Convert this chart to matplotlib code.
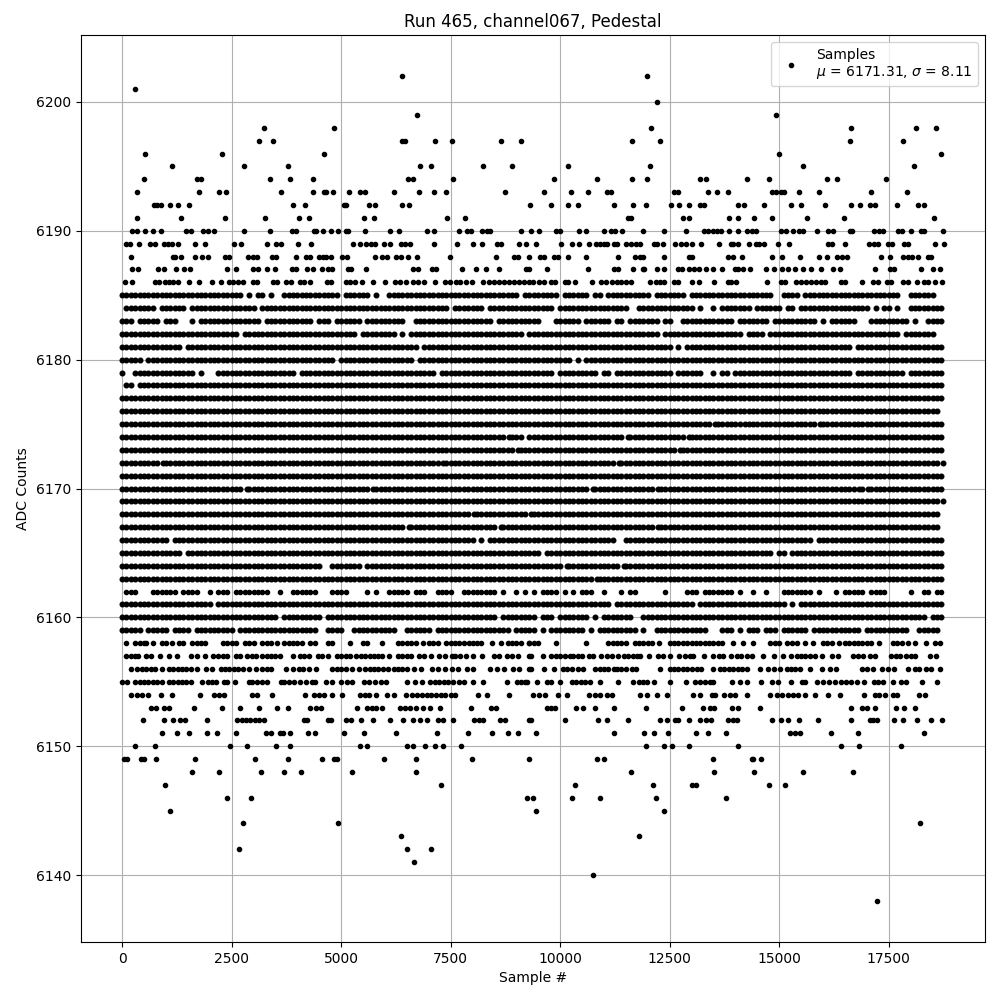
import numpy as np
import matplotlib
matplotlib.use('Agg')
import matplotlib.pyplot as plt

# sample positions, one list per ADC level, in hundreds of samples
# the dense rows are only read to about one marker width
adc_6202 = [63.8, 119.9]
adc_6201 = [3.0]
adc_6200 = [122.2]
adc_6199 = [67.3, 149.3]
adc_6198 = [32.4, 48.3, 120.8, 166.4, 181.3, 185.8]
adc_6197 = [31.2, 34.4, 63.9, 64.5, 71.4, 75.2, 86.4, 91, 116.3, 122.9, 166.2, 178.3]
adc_6196 = [5.2, 22.8, 46.1, 150, 187]
adc_6195 = [11.4, 27.8, 37.8, 68, 70.5, 82.3, 89.1, 101.9, 120.6, 155.5, 180.8]
adc_6194 = [5, 17.1, 18, 33.7, 38.3, 43.5, 65.2, 66.3, 75.5, 98.7, 108.5, 116.3, 119.9, 132, 133.4, 142.7, 147.7, 161, 163.3, 174.4]
adc_6193 = [3.3, 17.6, 22.1, 23.7, 36.2, 43.5, 46, 46.6, 48.1, 51.8, 54.3, 55.4, 62, 67.7, 71.1, 73.9, 87.5, 96.4, 102.4, 106.3, 110.6, 111.5, 125.9, 126.8, 133.8, 135.9, 138.4, 148.4, 149.3, 150.3, 151.2, 154.6, 159.1, 171, 179.2]
adc_6192 = [7.3, 8, 8.9, 11, 12.8, 15.3, 39, 41.7, 50.6, 51, 56.3, 57.7, 63.8, 65.4, 93.2, 97.8, 101.7, 104, 112.4, 116.7, 119.5, 125.2, 127.2, 129.5, 132, 132.9, 140.7, 142, 146.6, 152.8, 155, 160.5, 166.4, 168.5, 170.8, 171.9, 177, 181.7, 183.1]
adc_6191 = [3.4, 13.5, 23.5, 32.6, 40.4, 42.6, 55.2, 57.5, 74.1, 78.2, 115.4, 116.1, 128.1, 129.3, 138.6, 140.5, 144.3, 148.4, 156.4, 164.8, 185.4]
adc_6190 = [2.2, 3.3, 5.2, 7.1, 8.9, 14.5, 15.7, 18.5, 19.6, 21, 27.8, 33.7, 38.8, 39.7, 43.8, 44.2, 45.8, 47.7, 49.2, 51.1, 51.5, 55.4, 61.1, 63.2, 69.5, 71.1, 76.8, 78.7, 79.6, 82.1, 83.2, 84, 91, 93.3, 95.1, 99.1, 100, 104.3, 106, 110.1, 111.5, 112.6, 114.2, 119, 123.8, 128.8, 132.9, 133.8, 134.8, 135.9, 136.8, 138.6, 140.7, 142.6, 143.9, 144.6, 150.3, 151.6, 153.2, 154.6, 155.5, 158.7, 161.2, 162.3, 166.2, 166.7, 171.7, 172.8, 173.7, 177.2, 178.1, 180.1, 182.4, 183.1, 187.4]
adc_6189 = [0.8, 1.8, 3.8, 6.4, 7.5, 9.6, 10.5, 11.4, 12.8, 16.6, 18.9, 25.5, 27.1, 33.1, 35.1, 36.2, 40.1, 43.1, 52.7, 54.3, 55.6, 56.8, 57.7, 59.7, 61.1, 63.6, 64.5, 65.7, 71.1, 76.4, 80.2, 82.1, 85.5, 86.6, 90.5, 92.3, 94.4, 100.3, 102.8, 104.2, 106.5, 108.1, 109, 109.9, 110.8, 112.2, 112.9, 115.1, 116.1, 117.2, 118.3, 121.5, 122.2, 123.4, 126.3, 127.5, 128.8, 130.2, 132.2, 136.3, 138.9, 139.5, 140.7, 143.2, 144.8, 145.5, 146.6, 149.8, 152.3, 161.2, 162.1, 165.1, 170.5, 171.7, 172.6, 174.9, 175.8, 178.5, 179.4, 185.6, 187.6]
adc_6188 = [2, 11.6, 12.1, 13.5, 16.6, 18.2, 19.6, 23.5, 24.4, 28.7, 29.9, 30.8, 34.2, 35.1, 39.7, 42, 42.9, 44.9, 45.8, 46.5, 47.7, 50.2, 51.3, 57.7, 59.3, 60.4, 62.5, 63.6, 65.2, 67.3, 74.8, 85.3, 89.4, 90.3, 92.8, 95.5, 96.4, 98.5, 99.6, 101.7, 106, 113.3, 117, 118.3, 118.8, 123.6, 129.3, 130, 138.2, 139.5, 141.6, 148.4, 150.7, 154.8, 159.1, 161, 163.3, 164.4, 165.5, 173.3, 175.3, 178.3, 179.4, 180.4, 181.7, 184, 184.7]
adc_6187 = [2.3, 3.6, 8.2, 9.6, 12.3, 14.1, 15.5, 24, 26, 29.9, 31, 33.1, 34.9, 38.8, 39.7, 42.2, 43.5, 45.6, 47, 47.9, 51.5, 52.2, 55.6, 66.3, 67.5, 70.7, 71.6, 77.5, 80.7, 83, 86, 92.1, 92.8, 96.9, 106.3, 112.4, 113.1, 116.7, 118.8, 119.2, 122, 123.6, 126.8, 127.9, 129.5, 130.6, 131.8, 133.2, 135, 137, 139.8, 140.7, 141.8, 143.4, 147.1, 148.9, 150.7, 151.9, 153.7, 155.5, 157.3, 159.6, 162.3, 163.9, 171.9, 175.3, 176.2, 182.4, 185.1, 186.7]
adc_6186 = [0.7, 2.3, 7.5, 8.4, 9.8, 10.7, 11.6, 12.8, 15.3, 17.6, 20.5, 22.6, 24.4, 25.3, 26.5, 27.6, 29.9, 30.8, 34.4, 35.3, 37.4, 38.5, 40.6, 41.5, 42.9, 46.7, 47.7, 51.1, 52, 53.1, 54.7, 57.2, 60, 62.2, 63.4, 64.8, 66.3, 67.5, 68.9, 71.4, 73.7, 74.8, 76.2, 77.1, 78.4, 79.8, 82.3, 83.7, 84.8, 86, 87.1, 88.3, 89.4, 90.5, 91.7, 92.8, 93.9, 95.1, 96.2, 97.9, 98.9, 101, 101.9, 103.5, 107.2, 109.4, 110.4, 111.8, 112.9, 114, 115.1, 116.1, 120.6, 121.8, 122.7, 123.6, 126.1, 127, 130, 131.6, 135.2, 138.2, 139.1, 140.2, 147.3, 150.3, 151.4, 153.9, 155, 156.2, 157.3, 158.5, 159.6, 160.5, 164.2, 165.1, 169, 171.5, 172.6, 174.7, 175.6, 178.3, 179.4, 181.5, 183.1, 184, 185.6, 187.2]
adc_6185 = [0, 1, 2, 3, 4, 5, 6, 7, 8, 9, 10, 11, 12, 13, 14, 15, 16, 17, 18, 19, 20, 21, 22, 23, 24, 25, 26, 27, 29, 31, 32, 34, 37, 38, 39, 40, 41, 42, 43, 44, 45, 46, 47, 48, 49, 51, 52, 53, 54, 55, 56, 58, 61, 62, 63, 64, 65, 66, 67, 68, 69, 70, 71, 72, 73, 74, 75, 76, 77, 78, 79, 80, 81, 82, 83, 84, 85, 86, 87, 88, 89, 90, 92, 93, 94, 95, 96, 97, 98, 99, 101, 102, 103, 104, 105, 106, 108, 109, 111, 112, 113, 114, 115, 116, 117, 118, 119, 120, 122, 123, 124, 125, 126, 127, 128, 130, 131, 132, 133, 134, 135, 136, 137, 138, 139, 140, 141, 142, 143, 144, 145, 146, 147, 148, 151, 152, 153, 154, 156, 157, 158, 159, 160, 161, 162, 163, 164, 165, 166, 167, 168, 169, 170, 171, 172, 173, 174, 175, 176, 177, 180, 181, 182, 183, 184, 185]
adc_6184 = [1, 2, 3, 4, 5, 6, 7, 9, 10, 11, 12, 13, 14, 16, 17, 18, 19, 20, 21, 22, 23, 24, 25, 26, 27, 28, 29, 30, 32, 33, 34, 35, 36, 37, 38, 39, 40, 41, 42, 43, 44, 45, 46, 47, 48, 49, 50, 51, 52, 53, 54, 55, 56, 57, 58, 59, 60, 61, 62, 63, 64, 65, 66, 67, 68, 69, 70, 71, 72, 73, 74, 76, 77, 78, 79, 80, 81, 82, 84, 85, 86, 87, 88, 89, 90, 91, 92, 93, 94, 95, 96, 97, 98, 100, 101, 102, 103, 104, 105, 106, 107, 108, 109, 110, 111, 112, 113, 114, 115, 118, 119, 120, 121, 122, 123, 124, 125, 126, 127, 128, 129, 130, 132, 135, 137, 138, 139, 140, 141, 142, 143, 145, 146, 147, 148, 149, 150, 152, 153, 155, 156, 157, 158, 159, 160, 161, 162, 163, 164, 165, 166, 167, 168, 169, 170, 172, 174, 175, 177, 180, 181, 182, 183, 184, 185, 186, 187]
adc_6183 = [0, 1, 2, 4, 5, 6, 7, 8, 10, 11, 12, 16, 18, 19, 20, 21, 22, 23, 24, 25, 26, 27, 28, 29, 30, 31, 33, 34, 35, 36, 37, 38, 39, 40, 41, 42, 43, 45, 46, 47, 49, 50, 51, 52, 53, 54, 56, 57, 58, 59, 60, 61, 62, 63, 64, 67, 68, 69, 70, 71, 72, 73, 74, 75, 76, 77, 78, 79, 80, 81, 82, 83, 84, 86, 87, 88, 89, 90, 91, 92, 93, 94, 95, 99, 100, 101, 102, 103, 104, 106, 107, 108, 109, 110, 111, 113, 114, 116, 117, 118, 119, 120, 121, 122, 124, 125, 128, 129, 130, 131, 132, 133, 134, 135, 136, 137, 138, 139, 141, 142, 143, 144, 145, 146, 147, 149, 150, 151, 152, 153, 154, 155, 156, 157, 158, 160, 162, 163, 164, 165, 166, 167, 171, 172, 173, 174, 175, 176, 177, 178, 179, 181, 184, 185, 186, 187]
adc_6182 = [0, 1, 2, 3, 4, 5, 6, 7, 8, 9, 10, 11, 12, 13, 14, 15, 16, 17, 18, 19, 20, 21, 22, 23, 24, 25, 26, 28, 29, 30, 31, 32, 33, 34, 35, 36, 37, 38, 39, 40, 41, 42, 43, 44, 45, 46, 47, 48, 49, 50, 51, 52, 53, 55, 56, 57, 58, 59, 60, 61, 62, 64, 66, 67, 68, 69, 70, 71, 72, 73, 74, 75, 76, 77, 78, 79, 80, 81, 82, 83, 84, 85, 86, 87, 88, 89, 90, 91, 93, 94, 95, 96, 97, 98, 99, 100, 101, 102, 103, 104, 105, 106, 107, 108, 109, 110, 111, 112, 113, 114, 115, 116, 117, 118, 119, 120, 121, 122, 124, 125, 126, 127, 128, 129, 130, 131, 132, 133, 134, 135, 136, 137, 138, 139, 140, 141, 143, 144, 145, 146, 148, 149, 150, 151, 152, 153, 154, 155, 156, 157, 158, 159, 160, 161, 162, 163, 164, 165, 166, 167, 168, 169, 170, 171, 172, 173, 174, 175, 176, 177, 179, 180, 181, 182, 183, 184, 185]
adc_6181 = [0, 1, 2, 3, 4, 5, 6, 7, 8, 9, 10, 11, 12, 13, 15, 16, 17, 18, 19, 20, 21, 22, 23, 24, 25, 26, 27, 28, 29, 30, 31, 32, 33, 34, 35, 36, 37, 38, 39, 40, 41, 42, 43, 44, 45, 46, 47, 48, 49, 50, 51, 52, 53, 54, 55, 56, 57, 58, 59, 60, 61, 62, 63, 64, 65, 66, 67, 69, 70, 71, 72, 73, 74, 75, 76, 77, 78, 79, 80, 81, 82, 83, 84, 85, 86, 87, 88, 89, 90, 91, 92, 93, 94, 95, 96, 97, 98, 99, 100, 101, 102, 103, 104, 105, 106, 107, 108, 109, 110, 111, 112, 113, 114, 115, 116, 117, 118, 119, 120, 121, 122, 123, 124, 125, 127, 129, 130, 131, 132, 133, 134, 135, 136, 137, 138, 139, 140, 141, 142, 143, 144, 145, 146, 147, 148, 149, 150, 151, 152, 153, 154, 155, 156, 157, 158, 159, 160, 161, 162, 163, 164, 165, 166, 168, 169, 170, 171, 172, 173, 174, 175, 176, 177, 178, 179, 180, 181, 182, 183, 184, 185, 186, 187]
adc_6180 = [0, 1, 2, 3, 4, 6, 7, 8, 9, 10, 11, 12, 13, 14, 15, 16, 17, 18, 19, 20, 21, 22, 23, 24, 25, 26, 27, 28, 29, 30, 31, 32, 33, 34, 35, 36, 37, 38, 39, 40, 41, 42, 43, 44, 45, 46, 47, 48, 50, 51, 52, 53, 54, 55, 56, 57, 58, 59, 60, 61, 62, 63, 64, 65, 66, 68, 69, 70, 71, 72, 73, 74, 75, 76, 77, 78, 79, 80, 81, 82, 83, 84, 85, 86, 87, 88, 89, 90, 91, 92, 93, 94, 95, 96, 97, 98, 99, 100, 101, 102, 104, 106, 107, 108, 109, 110, 111, 112, 113, 114, 115, 116, 117, 118, 119, 120, 121, 122, 123, 124, 125, 126, 127, 128, 129, 130, 131, 132, 133, 134, 135, 136, 137, 138, 139, 140, 141, 142, 143, 144, 145, 146, 147, 148, 149, 150, 151, 152, 153, 154, 155, 156, 157, 158, 159, 160, 161, 162, 163, 164, 165, 166, 167, 168, 169, 170, 171, 172, 173, 174, 175, 176, 177, 178, 179, 180, 181, 182, 183, 184, 185, 186, 187]
adc_6179 = [0, 3, 4, 5, 6, 7, 8, 9, 10, 11, 12, 13, 14, 15, 16, 18, 22, 23, 24, 25, 26, 27, 28, 29, 30, 31, 32, 33, 34, 35, 36, 37, 38, 39, 41, 42, 43, 44, 45, 46, 47, 48, 49, 50, 51, 52, 53, 54, 55, 56, 57, 58, 59, 60, 61, 62, 63, 64, 65, 66, 67, 68, 69, 70, 71, 73, 74, 75, 76, 77, 78, 79, 80, 81, 82, 83, 84, 85, 86, 87, 88, 89, 90, 91, 92, 93, 94, 95, 96, 97, 98, 100, 101, 102, 103, 104, 105, 106, 107, 108, 110, 111, 113, 114, 115, 116, 117, 118, 119, 120, 121, 122, 123, 124, 125, 127, 128, 129, 130, 131, 132, 135, 137, 138, 140, 141, 142, 143, 144, 145, 146, 147, 148, 149, 150, 151, 152, 153, 154, 155, 156, 157, 158, 159, 160, 161, 162, 163, 164, 165, 166, 168, 169, 170, 171, 172, 173, 174, 175, 176, 177, 178, 180, 181, 182, 183, 184, 185, 186, 187]
adc_6178 = [1, 2, 4, 5, 6, 7, 8, 9, 10, 11, 12, 13, 14, 15, 16, 17, 18, 19, 20, 21, 22, 23, 24, 25, 26, 27, 28, 29, 30, 31, 32, 33, 34, 35, 36, 37, 38, 39, 40, 41, 42, 43, 44, 45, 46, 47, 48, 49, 50, 51, 52, 53, 54, 55, 56, 57, 58, 59, 60, 61, 62, 63, 64, 65, 66, 67, 68, 69, 70, 71, 72, 73, 74, 75, 76, 77, 78, 79, 80, 81, 82, 83, 84, 85, 86, 87, 88, 89, 90, 91, 92, 93, 94, 95, 96, 97, 98, 99, 100, 101, 102, 103, 104, 105, 106, 107, 108, 109, 110, 111, 112, 113, 114, 115, 116, 117, 118, 119, 120, 121, 122, 123, 124, 125, 126, 127, 128, 129, 130, 131, 132, 133, 134, 135, 136, 137, 138, 139, 140, 141, 142, 143, 144, 145, 146, 147, 148, 149, 150, 151, 152, 153, 154, 155, 156, 157, 158, 159, 160, 161, 162, 163, 164, 165, 166, 167, 168, 169, 170, 171, 172, 173, 174, 175, 176, 177, 178, 179, 180, 181, 182, 183, 184, 185, 186, 187]
adc_6177 = [0, 1, 2, 3, 4, 5, 6, 7, 8, 9, 10, 11, 12, 13, 14, 15, 16, 17, 18, 19, 20, 21, 22, 23, 24, 25, 26, 27, 28, 29, 30, 31, 32, 33, 34, 35, 36, 37, 38, 39, 40, 41, 42, 43, 44, 45, 46, 47, 48, 49, 50, 51, 52, 53, 54, 55, 56, 57, 58, 59, 60, 61, 62, 63, 64, 65, 66, 67, 68, 69, 70, 71, 72, 73, 74, 75, 76, 77, 78, 79, 80, 81, 82, 83, 84, 85, 86, 87, 88, 89, 90, 91, 92, 93, 94, 95, 96, 97, 98, 99, 100, 101, 102, 103, 104, 105, 106, 107, 108, 109, 110, 111, 112, 113, 114, 115, 116, 117, 118, 119, 120, 121, 122, 123, 124, 125, 126, 127, 128, 129, 130, 131, 132, 133, 134, 135, 136, 137, 138, 139, 140, 141, 142, 143, 144, 145, 146, 147, 148, 149, 150, 151, 152, 153, 154, 155, 156, 157, 158, 159, 160, 161, 162, 163, 164, 165, 166, 167, 168, 169, 170, 171, 172, 173, 174, 175, 176, 177, 178, 179, 180, 181, 182, 183, 184, 185, 186, 187]
adc_6176 = [0, 1, 2, 3, 4, 5, 6, 7, 8, 9, 10, 11, 12, 13, 14, 15, 16, 17, 18, 19, 20, 21, 22, 23, 24, 25, 26, 27, 28, 29, 30, 31, 32, 33, 34, 35, 36, 37, 38, 39, 40, 41, 42, 43, 44, 45, 46, 47, 48, 49, 50, 51, 52, 53, 54, 55, 56, 57, 58, 59, 60, 61, 62, 63, 64, 65, 66, 67, 68, 69, 70, 71, 72, 73, 74, 75, 76, 77, 78, 79, 80, 81, 82, 83, 84, 85, 86, 87, 88, 89, 90, 91, 92, 93, 94, 95, 96, 97, 98, 99, 100, 101, 102, 103, 104, 105, 106, 107, 108, 109, 110, 111, 112, 113, 114, 115, 116, 117, 118, 119, 120, 121, 122, 123, 124, 125, 126, 127, 128, 129, 130, 131, 132, 133, 134, 135, 136, 137, 138, 139, 140, 141, 142, 143, 144, 145, 146, 147, 148, 149, 150, 151, 152, 153, 154, 155, 156, 157, 158, 159, 160, 161, 162, 163, 164, 165, 166, 167, 168, 169, 170, 171, 172, 173, 174, 175, 176, 177, 178, 179, 180, 181, 182, 183, 184, 185, 186]
adc_6175 = [0, 1, 2, 3, 4, 5, 6, 7, 8, 9, 10, 11, 12, 13, 14, 15, 16, 17, 18, 19, 20, 21, 22, 23, 24, 25, 26, 27, 28, 29, 30, 31, 32, 33, 34, 35, 36, 37, 38, 39, 40, 41, 42, 43, 44, 45, 46, 47, 48, 49, 50, 51, 52, 53, 54, 55, 56, 57, 58, 59, 60, 61, 62, 63, 64, 65, 66, 67, 68, 69, 70, 71, 72, 73, 74, 75, 76, 77, 78, 79, 80, 81, 82, 83, 84, 85, 86, 87, 88, 89, 90, 91, 92, 93, 94, 95, 96, 97, 98, 99, 100, 101, 102, 103, 104, 105, 106, 107, 108, 109, 110, 111, 112, 113, 114, 115, 116, 117, 118, 119, 120, 121, 122, 123, 124, 125, 126, 127, 128, 129, 130, 131, 132, 133, 134, 135.4, 136, 137, 138, 139, 140, 141, 142.2, 143, 144, 145, 146, 147, 148, 149, 150, 151, 152, 153, 154, 155, 156, 157, 158, 159.4, 160, 161, 162, 163, 164, 165, 166, 167, 168, 169, 170, 171, 172, 173, 174, 175, 176, 177, 178, 179, 180, 181, 182, 183, 184, 185, 186, 187]
adc_6174 = [0, 1, 2, 3, 4, 5, 6, 7, 8, 9, 10, 11, 12, 13, 14, 15, 16, 17, 18, 19, 20, 21, 22, 23, 24, 25, 26, 27, 28, 29, 30, 31, 32, 33, 34, 35, 36, 37, 38, 39, 40, 41, 42, 43, 44, 45, 46, 47, 48, 49, 50, 51, 52, 53, 54, 55, 56, 57, 58, 59, 60, 61, 62, 63, 64, 65, 66, 67, 68, 69, 70, 71, 72, 73, 74, 75, 76, 77, 78, 79, 80, 81, 82, 83, 84, 85, 86, 87, 88.4, 89, 90, 91, 93, 94, 95, 96, 97, 98, 99, 100, 101, 102, 103, 104, 105, 106, 107, 108, 109, 110, 111, 112, 113, 114, 115.4, 116, 117, 118, 119, 120, 121, 122, 123, 124, 125, 126, 127, 128, 129.5, 130, 131, 132, 133, 134, 135, 136, 137, 138, 139, 140, 141, 142, 143, 144, 145, 146, 147, 148, 149, 150, 151, 152, 153, 154, 155, 156, 157, 158, 159, 160, 161, 162, 163, 164, 165, 166, 167, 168, 169, 170, 171, 172, 173, 174, 175, 176, 177, 178, 179, 180, 181, 182, 183, 184, 185, 186, 187]
adc_6173 = [0, 1, 2, 3, 4, 5, 6, 7, 8, 9, 10, 11, 12, 13, 14, 15, 16, 17, 18, 19, 20, 21, 22, 23, 24, 25, 26, 27, 28, 29, 30, 31, 32, 33, 34, 35, 36, 37, 38, 39, 40, 41, 42, 43, 44, 45, 46, 47, 48, 49, 50, 51, 52, 53, 54, 55, 56, 57, 58, 59, 60, 61, 62, 63, 64, 65, 66, 67, 68, 69, 70, 71, 72, 73, 74, 75, 76, 77, 78, 79, 80, 81, 82, 83, 84, 85, 86, 87, 88, 89, 90.3, 91, 92, 93, 94, 95, 96, 97, 98, 99, 100, 101, 102, 103, 104, 105, 106, 107, 108, 109, 110, 111, 112, 113, 114, 115, 116, 117, 118, 119, 120, 121, 122, 123, 124, 125, 126, 127.4, 128, 129, 130, 131, 132, 133, 134, 135, 136, 137, 138, 139, 140, 141, 142, 143, 144, 145, 146, 147, 148, 149, 150, 151, 152, 153, 154, 155, 156, 157, 158, 159, 160, 161, 162, 163, 164, 165, 166, 167, 168, 169, 170, 171, 172, 173, 174, 175, 176, 177, 178, 179, 180, 181, 182, 183, 184, 185, 186, 187]
adc_6172 = [0, 1, 2, 3, 4, 5, 6, 7, 8, 9.3, 10, 11, 12, 13, 14, 15, 16, 17, 18, 19, 20, 21, 22, 23, 24, 25, 26, 27, 28, 29, 30, 31, 32, 33, 34, 35, 36, 37, 38, 39, 40, 41, 42, 43, 44, 45, 46, 47, 48, 49, 50, 51, 52, 53, 54, 55, 56, 57, 58, 59, 60, 61, 62, 63, 64, 65, 66, 67, 68, 69, 70, 71, 72, 73.3, 74, 75, 76, 77, 78, 79, 80, 81, 82, 83, 84, 85, 86, 87, 88, 89, 90, 91, 92, 93, 94, 95, 96, 97, 98, 99, 100, 101, 102, 103, 104, 105, 106, 107, 108, 109, 110, 111, 112, 113.4, 114, 115, 116, 117, 118, 119, 120, 121, 122, 123, 124, 125, 126, 127, 128, 129, 130, 131, 132, 133, 134, 135, 136, 137, 138, 139, 140, 141, 142, 143, 144, 145, 146, 147, 148, 149, 150, 151, 152, 153, 154, 155, 156, 157, 158, 159, 160, 161, 162, 163, 164, 165, 166, 167, 168, 169, 170, 171, 172, 173, 174, 175, 176, 177, 178, 179, 180, 181, 182, 183, 184, 185, 186, 187.4]
adc_6171 = [0, 1, 2, 3, 4, 5, 6, 7, 8, 9, 10, 11, 12, 13, 14, 15, 16, 17, 18, 19, 20, 21, 22, 23, 24, 25, 26, 27, 28, 29, 30, 31, 32, 33, 34, 35, 36, 37, 38, 39, 40, 41, 42, 43, 44, 45, 46, 47, 48, 49, 50, 51, 52, 53, 54, 55, 56, 57, 58, 59, 60, 61, 62, 63, 64, 65, 66, 67, 68, 69, 70, 71, 72, 73, 74, 75, 76, 77, 78, 79, 80, 81, 82, 83, 84, 85, 86, 87, 88, 89, 90, 91, 92, 93, 94, 95, 96, 97, 98, 99, 100, 101, 102, 103, 104, 105, 106, 107, 108, 109, 110, 111, 112, 113, 114, 115, 116, 117, 118, 119, 120, 121, 122, 123, 124, 125, 126, 127, 128, 129, 130, 131, 132, 133, 134, 135, 136, 137, 138, 139, 140, 141, 142, 143, 144, 145, 146, 147, 148, 149, 150, 151, 152, 153, 154, 155, 156, 157, 158, 159, 160, 161, 162, 163, 164, 165, 166, 167, 168, 169, 170, 171, 172, 173, 174, 175, 176, 177, 178, 179, 180, 181, 182, 183, 184, 185, 186, 187]
adc_6170 = [0, 1, 2, 3, 4, 5, 6, 7, 8, 9, 10, 11, 12, 13, 14, 15, 16, 17, 18, 19, 20, 21, 22, 23, 24, 25, 26, 27, 28.4, 29, 30, 31, 32, 33, 34, 35, 36, 37, 38, 39, 40, 41, 42, 43, 44, 45, 46, 47, 48, 49, 50, 51, 52, 53, 54, 55, 56, 57.3, 58, 59, 60, 61, 62, 63, 64, 65, 66, 67, 68, 69, 70, 71, 72, 73, 74, 75, 76, 77, 78, 79, 80, 81, 82, 83, 84, 85, 86, 87, 88, 89, 90, 91, 92, 93, 94, 95, 96, 97, 98, 99, 100, 101, 102, 103, 104, 105, 106, 107.4, 108, 109, 110, 111, 112, 113, 114, 115, 116, 117, 118, 119, 120, 121, 122.4, 123, 124, 125, 126, 127, 128, 129, 130, 131, 132, 133, 134, 135, 136, 137, 138, 139, 140, 141, 142, 143, 144, 145, 146, 147, 148, 149, 150, 151, 152, 153, 154, 155, 156, 157, 158, 159, 160, 161, 162, 163, 164, 165, 166, 167, 168.3, 169, 170.3, 171, 172, 173, 174, 175, 176, 177, 178, 179, 180, 181, 182, 183, 184, 185, 186, 187]
adc_6169 = [0, 1, 2, 3, 4, 5, 6, 7, 8, 9, 10, 11, 12, 13, 14, 15, 16, 17, 18, 19, 20, 21, 22, 23, 24, 25, 26, 27, 28, 29, 30, 31, 32, 33, 34, 35, 36, 37, 38, 39, 40, 41, 42, 43, 44, 45, 46, 47, 48, 49, 50, 51, 52, 53, 54, 55, 56, 57, 58, 59, 60, 61, 62, 63, 64, 65, 66, 67, 68, 69, 70, 71, 72, 73, 74, 75, 76, 77, 78, 79, 80, 81, 82, 83, 84, 85, 86, 87, 88, 89, 90, 91, 92, 93, 94, 95, 96, 97, 98, 99, 100, 101, 102, 103, 104, 105, 106, 107, 108, 109, 110, 111, 112, 113, 114, 115, 116, 117, 118, 119, 120, 121, 122, 123, 124, 125, 126, 127, 128, 129, 130, 131, 132, 133, 134, 135, 136, 137, 138, 139, 140, 141, 142, 143, 144, 145, 146, 147, 148, 149, 150, 151, 152, 153, 154, 155, 156, 157, 158, 159, 160, 161, 162, 163, 164, 165, 166, 167, 168, 169, 170, 171, 172, 173, 174, 175, 176, 177, 178, 179, 180, 181, 182, 183, 184, 185, 186, 187.4]
adc_6168 = [0, 1, 2, 3, 4, 5, 6, 7, 8, 9, 10, 11, 12, 13, 14, 15, 16, 17, 18, 19, 20, 21, 22, 23, 24, 25, 26, 27, 28, 29, 30, 31, 32, 33, 34, 35, 36, 37, 38, 39, 40, 41, 42, 43, 44, 45, 46, 47, 48, 49, 50, 51, 52, 53, 54, 55, 56, 57, 58, 59, 60, 61, 62, 63, 64, 65, 66, 67, 68, 69, 70, 71, 72, 73, 74, 75, 76, 77, 78, 79, 80.3, 81, 82, 83, 84, 85, 86, 87, 88, 89, 90, 91, 92, 93.4, 94, 95, 96, 97, 98, 99, 100, 101, 102, 103, 104, 105, 106, 107, 108, 109, 110, 111, 112, 113, 114, 115, 116, 117, 118, 119, 120, 121, 122, 123, 124, 125, 126, 127, 128, 129, 130, 131, 132, 133, 134, 135, 136, 137, 138, 139, 140, 141, 142, 143, 144, 145, 146, 147, 148, 149, 150, 151, 152, 153, 154, 155, 156, 157, 158, 159, 160, 161, 162, 163, 164, 165, 166, 167, 168, 169, 170, 171, 172, 173, 174, 175, 176, 177, 178, 179, 180, 181, 182, 183, 184, 185, 186]
adc_6167 = [0, 1, 2, 3, 4, 5, 6, 7, 8, 9, 10, 11, 12, 13, 14, 15, 16, 17, 18, 19, 20, 21, 22, 23, 24, 25, 26, 27, 28, 29, 30, 31, 32, 33, 34, 35, 36, 37, 38, 39, 40, 41, 42, 43, 44, 45, 46, 47, 48, 49, 50, 51, 52, 53, 54, 55, 56, 57, 58, 59, 60, 61, 62, 63, 64, 65.4, 66, 67, 68, 69, 70, 71, 72, 73, 74, 75, 76, 77, 78, 79, 80, 81, 82, 83, 84, 85, 86.4, 87, 88, 89, 90, 91, 92, 93, 94, 95, 96, 97, 98, 99, 100, 101, 102, 103, 104, 105, 106, 107, 108, 109, 110, 111, 112, 113, 114, 115, 116, 117, 118, 119, 120, 121, 122.4, 123, 124, 125, 126, 127, 128, 129, 130, 131, 132, 133, 134, 135, 136, 137, 138, 139, 140, 141, 142, 143, 144, 145, 146, 147, 148, 149, 150, 151, 152, 153, 154, 155, 156, 157, 158, 159, 160, 161, 162, 163, 164, 165, 166, 167, 168, 169, 170, 171, 172, 173, 174, 175, 176, 177, 178, 179, 180, 181, 182, 183, 184, 185, 186]
adc_6166 = [0, 1, 2, 3, 4, 5, 6, 7, 8, 9, 10, 12, 13, 14, 15, 16, 17, 18, 19, 20, 21, 22, 23, 24, 25, 26, 27, 28, 29, 30, 31, 32, 33, 34, 35, 36, 37, 38, 39, 40, 41, 42, 43, 44, 45, 46, 47, 48, 49, 50, 51, 52, 53, 54, 55, 56, 57, 58, 59, 60, 61, 62, 63, 64, 65, 66, 67, 68, 69, 70, 71, 72, 73, 74, 75, 76, 77, 78, 79, 80, 82, 84, 85, 86, 87, 88, 89, 90, 91, 92, 93, 94, 95, 96, 97, 98, 99, 100, 101, 102, 103, 104, 105, 106, 107, 108, 109, 110, 111, 112, 115, 116, 117, 118, 119, 120, 121, 122, 123, 124, 125, 126, 127, 128, 129, 130, 131, 132, 133, 134, 135, 136, 137, 138, 139, 140, 141, 142, 143, 144, 145, 146, 147, 148, 149, 150, 151, 152, 153, 154, 155, 156, 157, 159, 160, 161, 162, 163, 164, 165, 166, 167, 168, 169, 170, 171, 172, 173, 174, 175, 176, 177, 178, 179, 180, 181, 182, 183, 184, 185, 186, 187]
adc_6165 = [0, 1, 2, 3, 4, 5, 6, 7, 8, 9, 10, 11, 12, 13, 15, 16, 17, 18, 19, 20, 21, 22, 23, 24, 25, 26, 27, 28, 29, 30, 31, 32, 33, 34, 35, 36, 37, 38, 39, 40, 41, 42, 43, 44, 45, 46, 47, 48, 49, 50, 51, 52, 53, 54, 55, 56, 57, 58, 59, 60, 61, 62, 63, 64, 65, 66, 67, 68, 69, 70, 71, 72, 73, 74, 75, 76, 77, 78, 79, 80, 81, 82, 83, 84, 85, 86, 87, 88, 89, 90, 91, 92, 93, 94, 95, 97, 98, 99, 100, 101, 102, 103, 104, 105, 106, 107, 108, 109, 110, 111, 112, 113, 114, 115, 116, 117, 118, 119, 120, 121, 122, 123, 124, 125, 126, 127, 128, 129, 130, 131, 132, 133, 134, 135, 136, 137, 138, 139, 140, 141, 142, 143, 144, 145, 146, 147, 148, 150, 151, 153, 154, 155, 156, 157, 158, 159, 160, 161, 162, 163, 164, 165, 166, 167, 168, 169, 170, 171, 172, 173, 174, 175, 176, 177, 178, 179, 180, 181, 182, 183, 184, 185, 186, 187]
adc_6164 = [0, 1, 2, 3, 4, 5, 6, 7, 8, 9, 10, 11, 12, 13, 14, 15, 16, 17, 18, 19, 20, 21, 22, 23, 24, 25, 26, 27, 28, 29, 30, 31, 32, 33, 34, 35, 36, 37, 38, 39, 40, 41, 42, 43, 44, 45, 48, 49, 50, 51, 52, 53, 54, 56, 57, 58, 59, 60, 61, 62, 63, 64, 65, 66, 67, 68, 69, 70, 71, 72, 73, 74, 75, 76, 77, 78, 79, 80, 81, 82, 83, 84, 85, 86, 87, 88, 89, 90, 91, 92, 93, 94, 95, 96, 97, 98, 99, 100, 101.6, 102, 103, 104, 105, 106, 107, 108, 109, 110, 111, 112, 113, 114.6, 115, 116, 117, 118, 119, 120, 121, 122, 123, 124, 125, 126, 127, 128, 129, 130, 131, 132, 133, 134, 135, 136, 137, 138, 139, 140, 141, 142, 143, 144, 145, 146, 147, 148, 149, 150, 151, 152, 153, 154, 155, 156, 157, 158, 159, 160, 161, 162, 163, 164, 165, 166, 167, 168, 169, 170, 171, 172, 173, 174, 175, 176, 177, 178, 179, 180, 181, 182, 183, 184, 185, 186, 187]
adc_6163 = [0, 1, 2, 3, 4, 5, 6, 7, 8, 9, 10, 11, 12, 13, 14, 15, 16, 17, 18, 19, 20, 21, 22, 23, 24, 25, 26, 27, 28, 29, 30, 31, 32, 33, 34, 35, 36, 37, 38, 39, 40, 41, 42, 43, 44, 45, 46, 47, 48, 49, 50, 51, 52, 53, 54, 55, 56, 57, 58, 59, 60, 61, 62, 63, 64, 65, 66, 67, 68, 69, 70, 71, 72, 73, 74, 75, 76, 77, 78, 79, 80, 81, 82, 83, 84, 85, 86, 87, 88, 89, 90, 91, 92, 93, 94, 95, 96, 97, 98, 99, 100, 101, 102, 103, 104, 105, 106, 107, 108.4, 109, 110, 111, 112, 113, 114, 115, 116, 117, 118, 119, 120, 121, 122, 123, 124, 125, 126, 127, 128, 129, 130, 131, 132, 133, 134, 135, 136, 137, 138, 139, 140, 141, 142, 143, 144, 145, 146, 147, 148, 149, 150, 151, 152, 153, 154, 155, 156, 157, 158, 159, 160, 161, 162, 163, 164, 165, 166, 167, 168, 169, 170, 171, 172, 173, 174, 175, 176, 177, 178, 179, 180, 181, 182, 183, 184, 185, 186, 187]
adc_6162 = [1, 2, 3, 7, 8, 9, 10, 11, 12, 14, 15, 16, 17, 20, 22, 23, 24, 26, 27, 28, 29, 30, 31, 32, 33, 36, 39, 40, 41, 42, 43, 44, 48, 49, 50, 51, 56, 58, 61, 62, 63, 64, 65, 67, 68, 69, 72, 73, 74, 75, 78, 79, 80, 81, 82, 83, 84, 85, 87, 90, 92, 94, 96, 97, 98, 99, 101, 103, 105, 106, 107, 110, 114, 116, 117, 124, 129, 130, 131, 133, 134, 135, 136, 137, 138, 139, 141, 144, 147, 151, 152, 153, 154, 155, 156, 157, 159, 163, 165, 166, 167, 168, 169, 171, 172, 173, 174, 180, 183, 184, 186, 187]
adc_6161 = [0, 1, 2, 3, 4, 5, 6, 7, 8, 9, 10, 11, 12, 13, 14, 15, 16, 17, 18, 19, 20, 22, 23, 24, 25, 26, 27, 28, 29, 30, 31, 32, 33, 34, 35, 36, 37, 38, 39, 40, 41, 42, 43, 44, 45, 46, 47, 48, 49, 50, 51, 52, 53, 54, 55, 56, 57, 58, 59, 60, 61, 62, 63, 64, 65, 66, 67, 68, 69, 70, 71, 72, 73, 74, 75, 76, 77, 78, 79, 80, 81, 82, 83, 84, 85, 86, 87, 88, 89, 90, 91, 92, 93, 94, 95, 96, 97, 98, 99, 100, 101, 102, 103, 104, 105, 106, 107, 108, 109, 110, 111, 113, 114, 115, 116, 117, 118, 119, 120, 121, 122, 123, 124, 125, 126, 127, 128, 129, 130, 132, 133, 134, 135, 136, 137, 138, 139, 140, 141, 142, 143, 144, 145, 146, 147, 148, 149, 150, 151, 153, 155, 156, 157, 158, 159, 160, 161, 162, 163, 164, 165, 166, 167, 168, 169, 170, 171, 172, 173, 174, 175, 176, 177, 178, 179, 180, 181, 182, 183, 184, 185, 186, 187]
adc_6160 = [0, 1, 2, 3, 4, 5, 6, 7, 8, 9, 10, 11, 12, 13, 14, 15, 16, 17, 18, 19, 20, 21, 22, 23, 24, 25, 26, 27, 28, 29, 30, 31, 32, 33, 34, 35, 37, 38, 39, 40, 41, 42, 43, 44, 45, 47, 48, 49, 50, 51, 52, 53, 54, 55, 56, 57, 58, 59, 60, 61, 62, 63, 64, 65, 66, 67, 68, 69, 70, 71, 72, 73, 74, 75, 76, 77, 78, 79, 80, 81, 82, 83, 84, 85, 87, 88, 89, 90, 91, 92, 93, 94, 96, 97, 98, 100, 101, 102, 103, 104, 105, 106, 108, 110, 111, 112, 113, 114, 115, 116, 119, 120, 121, 122, 123, 124, 125, 126, 127, 128, 129, 130, 131, 132, 133, 134, 135, 136, 137, 138, 139, 140, 141, 142, 143, 144, 145, 146, 147, 148, 149, 150, 151, 152, 153, 154, 155, 156, 157, 158, 159, 160, 161, 162, 163, 164, 165, 166, 167, 168, 169, 170, 171, 172, 173, 174, 175, 176, 177, 178, 179, 180, 181, 182, 183, 185, 186, 187]
adc_6159 = [0, 1, 2, 3, 4, 6, 7, 8, 9, 10, 12, 13, 14, 15, 17, 18, 19, 20, 21, 22, 23, 24, 25, 27, 28, 29, 30, 31, 32, 33, 34, 35, 36, 37, 38, 39, 40, 41, 42, 43, 44, 47, 48, 49, 50, 53, 54, 55, 56, 57, 58, 59, 60, 61, 62, 65, 66, 67, 68, 69, 70, 72, 73, 74, 75, 76, 77, 78, 79, 80, 81, 82, 83, 84, 85, 86, 87, 88, 90, 91, 92, 93, 94, 96, 98, 99, 100, 101, 102, 103, 104, 105, 107, 109, 110, 111, 112, 113, 114, 115, 116, 117, 119, 122, 123, 124, 125, 126, 127, 128, 129, 130, 131, 132, 133, 137, 138, 139, 141, 143, 144, 145, 147, 148, 149, 151, 152, 153, 154, 155, 156, 158, 159, 160, 161, 162, 163, 164, 165, 166, 167, 168, 170, 171, 172, 173, 174, 175, 176, 177, 178, 179, 182, 183, 184, 185, 186]
adc_6158 = [1, 3, 4, 5, 5.4, 7, 9, 10, 11.5, 13, 14, 16, 17, 18, 19, 23, 24, 25, 26, 28, 29, 30, 32, 33, 34, 35.4, 37, 38, 39, 40, 41, 43, 44, 47, 48, 52, 55, 56, 59.4, 63, 64, 65, 66, 67, 68.6, 70, 71, 72, 74, 75, 76, 77, 78, 79.3, 80, 81, 82, 84.4, 86.6, 88, 89, 90, 91, 92.8, 93, 94, 95, 99, 106, 111, 112, 113, 114, 115, 117, 118, 119, 120, 121, 122.6, 125, 126, 127, 128, 129, 130, 131, 132, 133, 134, 135, 136, 137, 139.5, 141.8, 144, 148, 149, 150, 151.8, 153, 154, 156, 157.8, 160, 161, 162, 163.7, 165, 166, 167, 168, 169, 170, 171, 172.8, 176, 177, 178, 179.4, 181, 183.5, 185.5, 186.7]
adc_6157 = [1, 2, 3, 3.6, 5.4, 6.5, 8.6, 10.6, 12.5, 15.8, 17, 18.9, 20.8, 22, 23, 24, 26, 27, 28.6, 29.6, 30.6, 32, 33, 34, 35, 36, 39, 40.5, 41.5, 42.6, 44.7, 45.7, 47, 49, 50, 51, 52, 53.5, 54.5, 55.5, 56.5, 57.5, 58.5, 59.3, 61, 63, 64, 65, 66, 67.7, 69, 70.6, 72.3, 73.6, 75.3, 76, 77.2, 78.4, 80, 82.2, 85, 86, 87.8, 89, 90.3, 92.8, 93.3, 96, 98, 99, 100, 101, 102.3, 103, 104, 105, 106.6, 107.6, 109.4, 110.8, 111.8, 113.3, 114.6, 115.6, 116.6, 117.6, 118.3, 120.2, 122.4, 123.4, 125, 127.2, 128.4, 129.7, 130.4, 132.9, 134.8, 136.2, 137.1, 138.9, 140.3, 141.3, 142.6, 143.9, 146.4, 148.7, 150.8, 152.6, 154, 155, 156, 157, 158.2, 159.7, 162, 163.5, 166.9, 168, 169.2, 170.7, 171.8, 175.6, 176.6, 177.5, 178.9, 180, 181, 184.4, 185.9]
adc_6156 = [2.1, 3.5, 4.5, 5.5, 6.5, 7.5, 9, 10.7, 11.7, 12.7, 13.7, 14.7, 15.7, 17.2, 19.2, 20.6, 22.5, 23.5, 24.5, 25.5, 26.5, 27.5, 29, 30.5, 32, 33, 34, 37.5, 39, 40.4, 41.4, 42.6, 44.2, 48, 49, 50, 51, 52.5, 54, 55.5, 56.5, 57.5, 58.5, 59.5, 60.7, 62, 63, 64, 65, 66.6, 68.2, 70.8, 72, 73.6, 75.3, 76.6, 78.7, 80, 84, 85.6, 87.1, 89.2, 90.5, 92.8, 93.3, 96.2, 98.7, 100.6, 101.6, 102.6, 104, 105.1, 108, 109, 110, 111, 112.2, 113, 114, 115, 116.4, 117.4, 122.7, 125, 126, 127, 128, 129, 130, 131.2, 132.2, 134.8, 136.5, 137.5, 138.5, 139.5, 140.5, 141.5, 142.6, 145.7, 147.5, 148.8, 150.2, 151.7, 152.7, 153.7, 154.7, 157.1, 159.7, 161.6, 163, 168.8, 170, 171.5, 173.4, 174.9, 176.2, 179.4, 181, 182, 183.6, 184.7, 186.7]
adc_6155 = [0, 1.2, 3, 4.2, 5, 6, 7, 8, 9.2, 10.7, 11.7, 12.7, 13.7, 14.7, 15.7, 18.3, 19.5, 20.6, 21.5, 23.2, 24, 25.8, 29, 29.7, 30.9, 32, 33, 36.2, 37, 38, 39.2, 40.5, 41.9, 43.3, 44.1, 46.6, 48, 49.9, 51.4, 52.5, 55.2, 56.3, 57.8, 59, 60.2, 65, 66.9, 68.5, 70.4, 71.4, 72.4, 73.4, 74.4, 75.6, 76.8, 78, 80.1, 82.5, 87.8, 90.1, 91, 92, 92.4, 94.8, 97, 98, 100, 102.7, 103.7, 104.7, 105.7, 106.9, 109.2, 113.1, 116.6, 117.9, 119, 119.8, 121.5, 125.1, 128.8, 130.8, 132, 133, 134.2, 135, 139.2, 141, 142.6, 145.9, 148.3, 149.8, 152.8, 155.1, 155.9, 158.7, 160, 161.3, 162.7, 164.2, 165.3, 166.5, 167.7, 169.4, 171.6, 172.6, 173.7, 176, 177.9, 179, 182.6, 186]
adc_6154 = [2.1, 3.3, 4.6, 6, 8.9, 11.4, 17.8, 21, 22.1, 23.3, 29.7, 30.9, 34.2, 41.7, 43.8, 44.9, 46, 47.9, 50.2, 54.4, 55.4, 56.3, 57.9, 60.4, 62, 64.8, 66.2, 67.3, 68.4, 69.5, 70.6, 71.7, 72.7, 73.8, 75, 76, 81.2, 83.4, 88.3, 93.9, 95.2, 96.6, 99.6, 101.5, 106.6, 108, 109.2, 110.8, 111.8, 118.3, 119.9, 122, 124.3, 130.4, 132, 134.6, 135.4, 137.3, 138.8, 139.8, 142.7, 148, 149.4, 150.6, 152.1, 153.2, 154.4, 156, 158.2, 161.2, 163.9, 169.4, 171.8, 172.8, 174.2, 175.9, 177, 182, 183.2]
adc_6153 = [6.5, 7.7, 9.6, 10.7, 16.4, 22.8, 26.9, 31.2, 35.3, 37.8, 43, 44.2, 45.3, 53.6, 55.9, 57, 58, 59.4, 63.5, 64.6, 65.7, 67.2, 68.7, 70.4, 72.5, 79.6, 84.1, 85.4, 97.1, 98, 98.9, 103.7, 105.1, 108, 112.4, 119.5, 127.7, 132.5, 134.2, 135.1, 139.3, 140.5, 145.7, 166.4, 169, 170.1, 171.9, 176.7, 178.5, 181]
adc_6152 = [4.7, 9.5, 11.6, 13.2, 14.4, 19.4, 26.3, 27.3, 28.3, 29.3, 30.3, 31.3, 32.4, 41.5, 42.2, 47, 47.7, 51, 52.2, 54.5, 57.2, 61.1, 64.1, 66.3, 68, 69.5, 72, 73.3, 75.5, 80.3, 81.4, 82.5, 86.3, 87.3, 93, 93.3, 101, 108.7, 110.6, 115.4, 122.7, 124.3, 126.3, 126.8, 129.4, 132, 133.2, 134.5, 138.4, 139.4, 140.3, 148.4, 150.3, 151.9, 154.6, 158.9, 166.5, 170.7, 171.5, 172.4, 176.2, 178.3, 181.5, 184.7, 187.2]
adc_6151 = [9.1, 12.5, 15.3, 19.4, 21.7, 26, 32.8, 34, 36, 36.7, 38.3, 42.4, 44, 50.6, 55.2, 62.5, 71.8, 78.9, 84.4, 88, 90.4, 94.4, 112.4, 119.2, 121.5, 124.7, 130.9, 133.8, 137.9, 152.5, 153.7, 154.8, 161.9, 168, 183]
adc_6150 = [3, 7.5, 24.6, 28.5, 35.1, 38.3, 54.3, 55.9, 65, 66.3, 69.1, 71.4, 73.2, 77.3, 119.5, 123.6, 125.6, 129.3, 140.7, 164.2, 168.3, 177.8]
adc_6149 = [0.5, 1.1, 4.3, 5, 7.8, 16.6, 30.3, 37.8, 45.6, 48.3, 49.1, 59.7, 67, 79.8, 92.8, 108.5, 109.9, 135, 143.7, 144.1, 145.9]
adc_6148 = [16, 22.1, 31.7, 37, 40.8, 52.4, 67, 116.1, 135.2, 144.3, 155.5, 166.9]
adc_6147 = [9.8, 72.7, 103.5, 121.3, 130.2, 131.1, 147.7, 151.4]
adc_6146 = [24, 29.4, 92.4, 93.7, 102.8, 109, 121.8, 137.9]
adc_6145 = [11, 94.4, 123.8]
adc_6144 = [27.6, 49.2, 182.2]
adc_6143 = [63.6, 118.1]
adc_6142 = [26.7, 65, 70.5]
adc_6141 = [66.6]
adc_6140 = [107.4]
adc_6138 = [172.4]

levels = [6202, 6201, 6200, 6199, 6198, 6197, 6196, 6195, 6194, 6193, 6192, 6191, 6190,
          6189, 6188, 6187, 6186, 6185, 6184, 6183, 6182, 6181, 6180, 6179, 6178, 6177,
          6176, 6175, 6174, 6173, 6172, 6171, 6170, 6169, 6168, 6167, 6166, 6165, 6164,
          6163, 6162, 6161, 6160, 6159, 6158, 6157, 6156, 6155, 6154, 6153, 6152, 6151,
          6150, 6149, 6148, 6147, 6146, 6145, 6144, 6143, 6142, 6141, 6140, 6138]

xs = []
ys = []
dense_x = []
dense_y = []
for level in levels:
    row = globals()['adc_%d' % level]
    # rows read at marker resolution get a slightly bigger dot so they close up
    if len(row) > 150:
        dense_x += [v * 100 for v in row]
        dense_y += [level] * len(row)
    else:
        xs += [v * 100 for v in row]
        ys += [level] * len(row)

plt.figure(figsize=(10, 10), dpi=100)
plt.title('Run 465, channel067, Pedestal')
plt.plot(dense_x, dense_y, 'k.', ms=6.6)
plt.plot(xs, ys, 'k.', label='Samples\n$\\mu$ = 6171.31, $\\sigma$ = 8.11')
plt.xlabel('Sample #')
plt.ylabel('ADC Counts')
plt.grid(True)
plt.legend(loc='upper right')
plt.subplots_adjust(left=0.081, right=0.985, top=0.965, bottom=0.058)
plt.savefig('out.png')
